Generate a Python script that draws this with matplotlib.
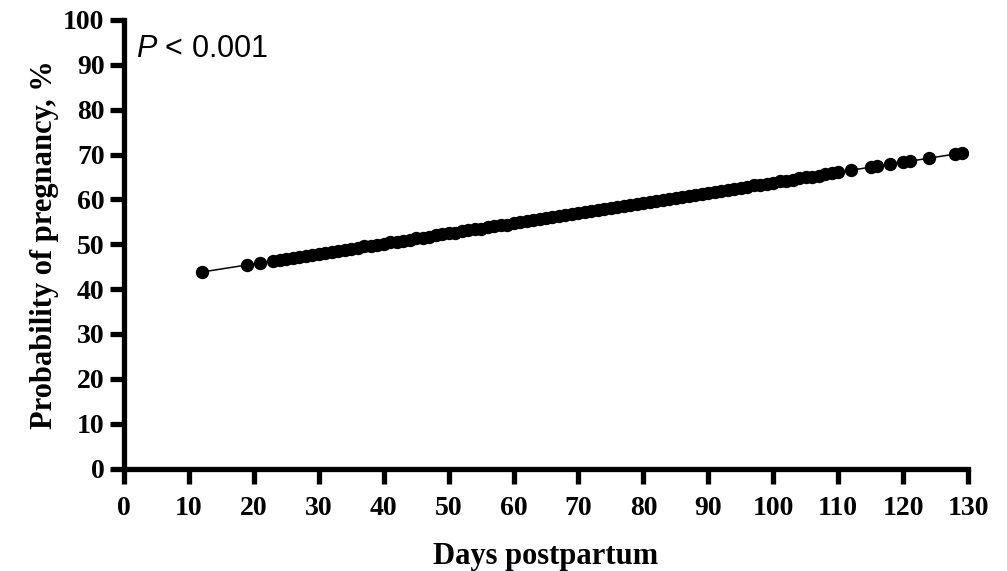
import matplotlib
matplotlib.use("Agg")
import matplotlib.pyplot as plt

plt.rcParams["mathtext.fontset"] = "custom"
plt.rcParams["mathtext.rm"] = "Liberation Sans"
plt.rcParams["mathtext.it"] = "Liberation Sans:italic"

# days postpartum and fitted probability of pregnancy (%)
days = [12, 19, 21] + list(range(23, 111)) + [112, 115, 116, 118, 120, 121, 124, 128, 129]
prob = [43.8, 45.4, 45.8,
        46.3, 46.5, 46.7, 47.0, 47.2, 47.4, 47.6, 47.9, 48.1, 48.3,
        48.6, 48.8, 49.0, 49.2, 49.5, 49.7, 49.9, 50.1, 50.4, 50.6,
        50.8, 51.0, 51.3, 51.5, 51.7, 52.0, 52.2, 52.4, 52.6, 52.9,
        53.1, 53.3, 53.5, 53.8, 54.0, 54.2, 54.4, 54.7, 54.9, 55.1,
        55.4, 55.6, 55.8, 56.0, 56.3, 56.5, 56.7, 56.9, 57.2, 57.4,
        57.6, 57.9, 58.1, 58.3, 58.5, 58.8, 59.0, 59.2, 59.4, 59.7,
        59.9, 60.1, 60.3, 60.6, 60.8, 61.0, 61.3, 61.5, 61.7, 61.9,
        62.2, 62.4, 62.6, 62.8, 63.1, 63.3, 63.5, 63.7, 64.0, 64.2,
        64.4, 64.7, 64.9, 65.1, 65.3, 65.6, 65.8, 66.0,
        66.5, 67.2, 67.4, 67.9, 68.3, 68.5, 69.2, 70.1, 70.4]

xticks = list(range(0, 131, 10))
yticks = list(range(0, 101, 10))

serif = "Liberation Serif"

fig = plt.figure(figsize=(10.07, 5.71), dpi=100)
ax = fig.add_axes([0.1231, 0.1795, 0.8382, 0.7855])

ax.plot(days, prob, color="black", lw=1.1, marker="o", ms=8.6, mfc="black", mec="black")

ax.set_xlim(0, 130)
ax.set_ylim(0, 100)
ax.set_xticks(xticks)
ax.set_yticks(yticks)

for s in ["top", "right"]:
    ax.spines[s].set_visible(False)
for s in ["left", "bottom"]:
    ax.spines[s].set_linewidth(3.8)
    ax.spines[s].set_capstyle("projecting")

ax.tick_params(axis="x", direction="out", length=11, width=3.8, pad=9)
ax.tick_params(axis="y", direction="out", length=10, width=3.8, pad=4)
for lab in ax.get_xticklabels() + ax.get_yticklabels():
    lab.set_fontfamily(serif)
    lab.set_fontweight("bold")
    lab.set_fontsize(20)

ax.set_xlabel("Days postpartum", fontfamily=serif, fontweight="bold", fontsize=22, labelpad=15)
ax.set_ylabel("Probability of pregnancy, %", fontfamily=serif, fontweight="bold", fontsize=22, labelpad=3)

ax.text(0.014, 0.917, r"$P$ < 0.001", transform=ax.transAxes, fontsize=22,
        fontfamily="Liberation Sans", va="baseline", ha="left")

plt.savefig("out.png", dpi=100)
